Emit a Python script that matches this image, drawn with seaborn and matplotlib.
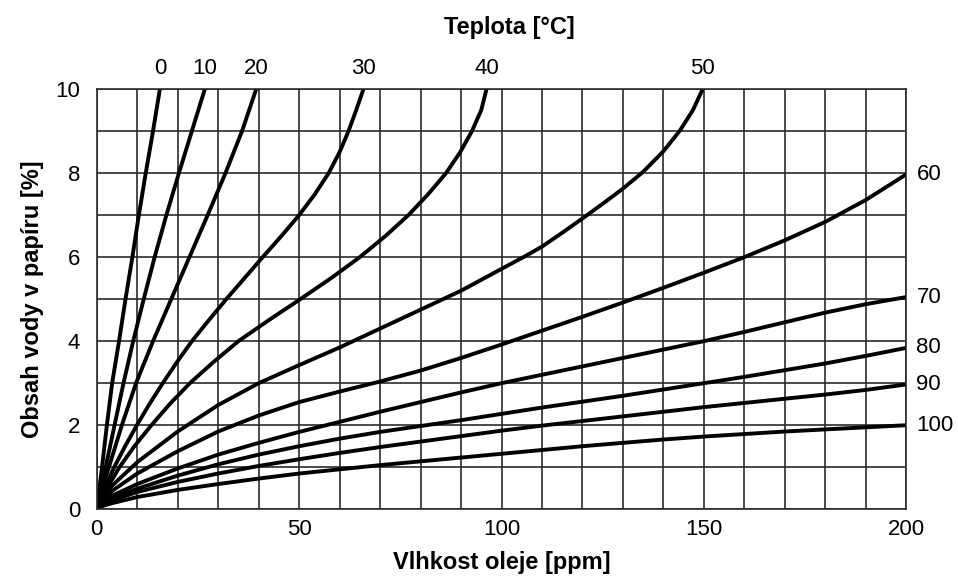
import matplotlib
matplotlib.use('Agg')
import matplotlib.pyplot as plt
import seaborn as sns
import pandas as pd
from matplotlib.ticker import MultipleLocator

# steep curves (0-50 degC) read as x at given water content levels
t0_x = [0, 1.3, 2.5, 3.8, 5.5, 7.1, 8.8, 10.4, 12.1, 13.9, 15.6]
t0_y = [0, 1, 2, 3, 4, 5, 6, 7, 8, 9, 10]
t10_x = [0, 1.0, 2.2, 4.4, 6.6, 9.0, 11.6, 14.3, 17.2, 20.3, 23.5, 26.7]
t10_y = [0, 0.5, 1, 2, 3, 4, 5, 6, 7, 8, 9, 10]
t20_x = [0, 1.3, 3.0, 6.2, 9.7, 13.9, 18.4, 22.9, 27.4, 31.8, 35.9, 39.4]
t20_y = [0, 0.5, 1, 2, 3, 4, 5, 6, 7, 8, 9, 10]
t30_x = [0, 1.9, 4.3, 7.0, 9.9, 13.0, 16.3, 19.8, 23.5, 27.7, 32.0, 36.5,
         41.0, 45.6, 50.0, 53.9, 57.3, 60.0, 62.2, 64.1, 65.9]
t30_y = [0, 0.5, 1, 1.5, 2, 2.5, 3, 3.5, 4, 4.5, 5, 5.5,
         6, 6.5, 7, 7.5, 8, 8.5, 9, 9.5, 10]
t40_x = [0, 2.5, 5.6, 9.3, 13.5, 18.0, 23.0, 28.8, 35.0, 42.5, 50.3, 57.9,
         65.0, 71.3, 77.0, 81.9, 86.3, 89.8, 92.7, 95.0, 96.3]
t40_y = [0, 0.5, 1, 1.5, 2, 2.5, 3, 3.5, 4, 4.5, 5, 5.5,
         6, 6.5, 7, 7.5, 8, 8.5, 9, 9.5, 10]
t50_x = [0, 1.5, 4, 10, 20, 30, 40, 50, 60, 70, 80, 90, 100, 106, 110,
         115, 120, 125, 130, 135, 140, 144, 147.3, 149.7]
t50_y = [0, 0.3, 0.58, 1.12, 1.85, 2.48, 3.0, 3.43, 3.85, 4.3, 4.75, 5.2,
         5.72, 6.03, 6.25, 6.58, 6.92, 7.27, 7.63, 8.03, 8.52, 9.0, 9.5, 10]

# flatter curves (60-100 degC) read at fixed oil moisture values
oil_ppm = [0, 1.5, 4, 10, 20, 30, 40, 50, 60, 70, 80, 90, 100, 110, 120,
           130, 140, 150, 160, 170, 180, 190, 200]
t60_y = [0, 0.22, 0.45, 0.85, 1.38, 1.85, 2.23, 2.55, 2.8, 3.04, 3.3, 3.6,
         3.92, 4.25, 4.58, 4.92, 5.27, 5.63, 6.0, 6.4, 6.84, 7.36, 7.97]
t70_y = [0, 0.17, 0.33, 0.6, 0.97, 1.3, 1.58, 1.84, 2.08, 2.32, 2.55, 2.78,
         3.0, 3.2, 3.4, 3.6, 3.8, 4.0, 4.22, 4.45, 4.68, 4.88, 5.05]
t80_y = [0, 0.14, 0.27, 0.49, 0.8, 1.07, 1.3, 1.5, 1.68, 1.84, 1.98, 2.12,
         2.27, 2.42, 2.56, 2.7, 2.85, 3.0, 3.15, 3.31, 3.47, 3.65, 3.84]
t90_y = [0, 0.12, 0.22, 0.41, 0.65, 0.85, 1.03, 1.19, 1.34, 1.48, 1.61, 1.74,
         1.87, 1.99, 2.1, 2.21, 2.32, 2.43, 2.53, 2.63, 2.73, 2.84, 2.97]
t100_y = [0, 0.08, 0.15, 0.29, 0.46, 0.6, 0.73, 0.85, 0.95, 1.05, 1.14, 1.23,
          1.32, 1.41, 1.5, 1.58, 1.66, 1.73, 1.79, 1.85, 1.9, 1.95, 2.0]

temps_top = ['0', '10', '20', '30', '40', '50']
temps_right = ['60', '70', '80', '90', '100']
curves_top = [(t0_x, t0_y), (t10_x, t10_y), (t20_x, t20_y),
              (t30_x, t30_y), (t40_x, t40_y), (t50_x, t50_y)]
curves_right = [(oil_ppm, t60_y), (oil_ppm, t70_y), (oil_ppm, t80_y),
                (oil_ppm, t90_y), (oil_ppm, t100_y)]

sns.set_style('white')
plt.rcParams['font.family'] = ['Liberation Sans', 'DejaVu Sans']
plt.rcParams['text.color'] = 'black'
plt.rcParams['axes.labelcolor'] = 'black'
plt.rcParams['xtick.color'] = 'black'
plt.rcParams['ytick.color'] = 'black'

fig = plt.figure(figsize=(9.58, 5.82), dpi=100)
ax = fig.add_axes([0.101, 0.125, 0.845, 0.722])

for xs, ys in curves_top + curves_right:
    df = pd.DataFrame({'x': xs, 'y': ys})
    sns.lineplot(data=df, x='x', y='y', sort=False, estimator=None,
                 color='black', linewidth=2.8, ax=ax)
    ax.lines[-1].set_solid_joinstyle('round')
    ax.lines[-1].set_solid_capstyle('round')

# labels for curves leaving through the top
for label, (xs, ys) in zip(temps_top, curves_top):
    ax.text(xs[-1], 10.25, label, ha='center', va='bottom', fontsize=16,
            clip_on=False)

# labels for curves ending at right edge
for label, (xs, ys) in zip(temps_right, curves_right):
    ax.text(202.5, ys[-1], label, ha='left', va='center', fontsize=16,
            clip_on=False)

ax.set_xlim(0, 200)
ax.set_ylim(0, 10)
ax.xaxis.set_major_locator(MultipleLocator(50))
ax.xaxis.set_minor_locator(MultipleLocator(10))
ax.yaxis.set_major_locator(MultipleLocator(2))
ax.yaxis.set_minor_locator(MultipleLocator(1))
ax.grid(which='both', color='#2b2b2b', linewidth=1.2)
ax.set_axisbelow(True)
ax.tick_params(which='both', length=0, labelsize=16)
ax.tick_params(axis='x', pad=7)
ax.tick_params(axis='y', pad=12)
for sp in ax.spines.values():
    sp.set_color('#2b2b2b')
    sp.set_linewidth(1.2)

ax.set_xlabel('Vlhkost oleje [ppm]', fontsize=17, fontweight='bold', labelpad=8)
ax.set_ylabel('Obsah vody v papíru [%]', fontsize=17, fontweight='bold', labelpad=8)
fig.text(0.532, 0.952, 'Teplota [°C]', ha='center', va='center',
         fontsize=17, fontweight='bold')

fig.savefig('out.png', dpi=100)
